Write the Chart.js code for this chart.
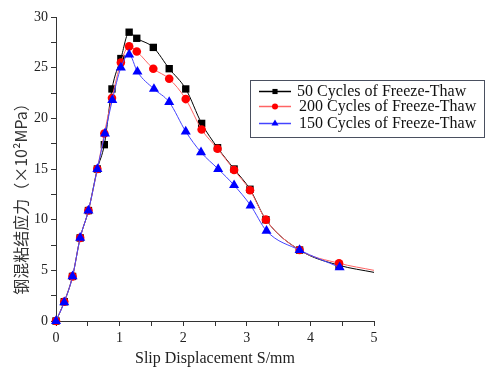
<!DOCTYPE html>
<html><head><meta charset="utf-8">
<script src="https://cdn.jsdelivr.net/npm/chart.js@4.4.1/dist/chart.umd.min.js"></script>
<style>html,body{margin:0;padding:0;background:#fff;}#wrap{width:487px;height:372px;position:relative;}</style>
</head><body><div id="wrap"><canvas id="c" width="487" height="372"></canvas></div>
<script>
const seriesNames = ['50 Cycles of Freeze-Thaw', '200 Cycles of Freeze-Thaw', '150 Cycles of Freeze-Thaw'];
const xTitle = 'Slip Displacement S/mm';
const yTitle = '钢混粘结应力（×10²MPa）';
const yTicks = [0, 5, 10, 15, 20, 25, 30];
const xTicks = [0, 1, 2, 3, 4, 5];

const blackX = [0, 0.13, 0.26, 0.38, 0.51, 0.65, 0.76, 0.88, 1.02, 1.15, 1.27, 1.53, 1.78, 2.04, 2.29, 2.54, 2.80, 3.05, 3.30, 3.83, 4.45, 5.0];
const blackY = [0, 1.9, 4.4, 8.2, 10.9, 15.0, 17.4, 22.9, 25.9, 28.5, 27.9, 27.0, 24.9, 22.9, 19.5, 17.1, 15.0, 13.0, 10.0, 7.0, 5.5, 4.8];
const redX = [0, 0.13, 0.26, 0.38, 0.51, 0.65, 0.76, 0.88, 1.02, 1.15, 1.27, 1.53, 1.78, 2.04, 2.29, 2.54, 2.80, 3.05, 3.30, 3.83, 4.45, 5.0];
const redY = [0, 1.9, 4.4, 8.2, 10.9, 15.0, 18.5, 22.0, 25.5, 27.1, 26.6, 24.9, 23.9, 21.9, 18.9, 17.0, 14.9, 12.9, 10.0, 7.0, 5.7, 5.0];
const blueX = [0, 0.13, 0.26, 0.38, 0.51, 0.65, 0.77, 0.885, 1.02, 1.15, 1.28, 1.54, 1.78, 2.04, 2.28, 2.55, 2.80, 3.06, 3.31, 3.83, 4.46];
const blueY = [0, 1.85, 4.4, 8.2, 10.9, 15.0, 18.5, 21.8, 25.0, 26.3, 24.6, 22.9, 21.6, 18.7, 16.65, 15.0, 13.4, 11.4, 8.9, 7.0, 5.3];

function pts(xs, ys) { return xs.map((x, i) => ({ x: x, y: ys[i] })); }
// last point of black/red is an unmarked curve end
function radiusFor(n, r, lastHidden) { return ctx => (lastHidden && ctx.dataIndex === n - 1) ? 0 : r; }

const serif = 'Liberation Serif, Times New Roman, serif';
const styles = [
  { line: '#000000', fill: '#000000', pstyle: 'rect', r: 5.2 },
  { line: '#ff6464', fill: '#ff0000', pstyle: 'circle', r: 4.3 },
  { line: '#4444ff', fill: '#0000ff', pstyle: 'triangle', r: 5.8 }
];

const legendPlugin = {
  id: 'boxLegend',
  afterDraw(chart) {
    const ctx = chart.ctx;
    ctx.save();
    const bx = 250.5, by = 80.5, bw = 234, bh = 57;
    ctx.fillStyle = '#fff';
    ctx.fillRect(bx, by, bw, bh);
    ctx.strokeStyle = '#4a5060';
    ctx.lineWidth = 1;
    ctx.strokeRect(bx, by, bw, bh);
    const rows = [91, 106, 123];
    const textX = [297, 299, 299];
    ctx.font = '16px ' + serif;
    ctx.textBaseline = 'middle';
    rows.forEach((yy, i) => {
      const s = styles[i];
      ctx.strokeStyle = s.line;
      ctx.lineWidth = 1.5;
      ctx.beginPath(); ctx.moveTo(259, yy + 0.5); ctx.lineTo(291, yy + 0.5); ctx.stroke();
      ctx.fillStyle = s.fill;
      Chart.helpers.drawPoint(ctx, { pointStyle: s.pstyle, radius: s.r * 0.7, rotation: 0, borderWidth: 0 }, 275, yy + 0.5);
      ctx.fillStyle = '#111';
      ctx.fillText(seriesNames[i], textX[i], yy + 1);
    });
    // y axis title
    ctx.translate(21, 195);
    ctx.rotate(-Math.PI / 2);
    ctx.font = '16px "Noto Sans CJK SC", sans-serif';
    ctx.fillStyle = '#333';
    ctx.textAlign = 'center';
    ctx.textBaseline = 'middle';
    ctx.fillText(yTitle, 0, 0);
    ctx.restore();
  }
};

const datasets = [
  { data: pts(blackX, blackY), n: blackX.length, hide: true },
  { data: pts(redX, redY), n: redX.length, hide: true },
  { data: pts(blueX, blueY), n: blueX.length, hide: false }
].map((d, i) => ({
  label: seriesNames[i],
  data: d.data,
  borderColor: styles[i].line,
  backgroundColor: styles[i].fill,
  pointBackgroundColor: styles[i].fill,
  pointBorderColor: styles[i].fill,
  pointBorderWidth: 0,
  pointStyle: styles[i].pstyle,
  pointRadius: radiusFor(d.n, styles[i].r, d.hide),
  borderWidth: 1,
  cubicInterpolationMode: 'monotone',
  order: 3 - i,
  clip: 6
}));

new Chart(document.getElementById('c'), {
  type: 'line',
  data: { datasets: datasets },
  options: {
    responsive: false,
    animation: false,
    events: [],
    layout: { padding: { top: 17, right: 113, bottom: 0, left: 0 } },
    plugins: { legend: { display: false }, tooltip: { enabled: false } },
    scales: {
      x: {
        type: 'linear', min: 0, max: 5,
        afterFit(s) { s.height = 51; },
        border: { display: true, color: '#333', width: 1 },
        grid: { display: true, drawOnChartArea: false, color: '#333', tickLength: 5, tickColor: '#333' },
        ticks: {
          stepSize: 0.5, color: '#222', padding: 4, maxRotation: 0, autoSkip: false,
          font: { family: serif, size: 14 },
          callback: v => xTicks.includes(v) ? String(v) : ''
        },
        title: { display: true, text: xTitle, color: '#222', font: { family: serif, size: 16 }, padding: { top: 3 } }
      },
      y: {
        type: 'linear', min: 0, max: 30,
        afterFit(s) { s.width = 56; },
        border: { display: true, color: '#333', width: 1 },
        grid: { display: true, drawOnChartArea: false, color: '#333', tickLength: 5, tickColor: '#333' },
        ticks: {
          stepSize: 2.5, color: '#222', padding: 3, autoSkip: false,
          font: { family: serif, size: 14 },
          callback: v => yTicks.includes(v) ? String(v) : ''
        },
        title: { display: false }
      }
    }
  },
  plugins: [legendPlugin]
});
</script></body></html>
